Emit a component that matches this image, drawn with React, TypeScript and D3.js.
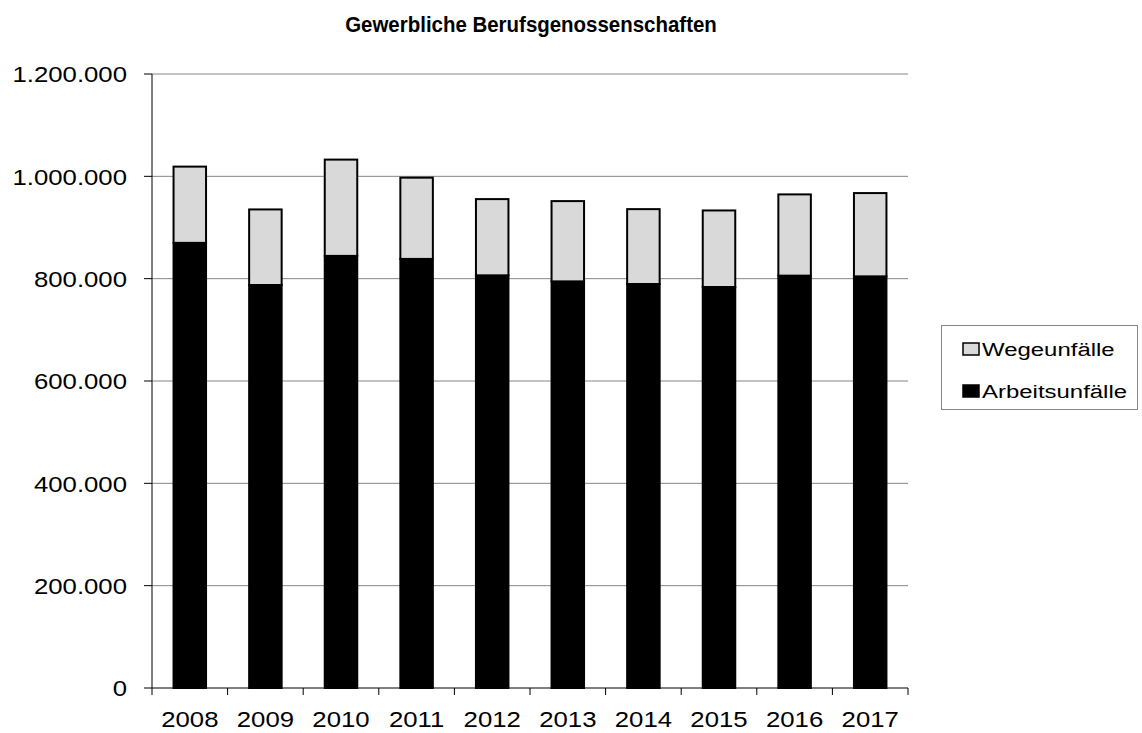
import * as d3 from 'd3';

const years = ['2008', '2009', '2010', '2011', '2012', '2013', '2014', '2015', '2016', '2017'];
const arbeitsunfaelle = [870000, 787600, 844500, 838600, 806500, 794700, 789600, 783700, 805900, 804500];
const wegeunfaelle = [149000, 147700, 188200, 158800, 149000, 156900, 146300, 149600, 158800, 162800];
const yTicks = [0, 200000, 400000, 600000, 800000, 1000000, 1200000];

const seriesNames = ['Arbeitsunfälle', 'Wegeunfälle'];
const colors = ['#000000', '#d9d9d9'];

const fmt = (v: number) => d3.format(',')(v).replace(/,/g, '.');

export default function App() {
  const width = 1142;
  const height = 733;
  const left = 152;
  const right = 908;
  const top = 74;
  const bottom = 688;

  const x = d3.scaleBand<string>().domain(years).range([left, right]).paddingInner(0.57).paddingOuter(0.285);
  const y = d3.scaleLinear().domain([0, 1200000]).range([bottom, top]);

  const rows = years.map((yr, i) => ({ year: yr, a: arbeitsunfaelle[i], w: wegeunfaelle[i] }));
  const stack = d3.stack<any>().keys(['a', 'w'])(rows);

  const step = (right - left) / years.length;
  const font = 'Liberation Sans, Arial, sans-serif';

  return (
    <svg width={width} height={height} style={{ position: 'absolute', left: 0, top: 0 }} fontFamily={font}>
      <rect width={width} height={height} fill="#fff" />
      <text transform="translate(531,31.5) scale(0.93,1)" textAnchor="middle" fontSize={22} fontWeight="bold">
        Gewerbliche Berufsgenossenschaften
      </text>

      {yTicks.map((t) => (
        <g key={t}>
          {t > 0 && <line x1={left} x2={right} y1={y(t)} y2={y(t)} stroke="#868686" strokeWidth={1} />}
          <line x1={left - 8} x2={left} y1={y(t)} y2={y(t)} stroke="#000" strokeWidth={1} />
          <text
            transform={`translate(127,${y(t) + 8.3}) scale(1.12,1)`}
            textAnchor="end"
            fontSize={23}
          >
            {fmt(t)}
          </text>
        </g>
      ))}

      {stack.map((s, si) => (
        <g key={si}>
          {s.map((d, i) => (
            <rect
              key={i}
              x={x(years[i])}
              width={x.bandwidth()}
              y={y(d[1])}
              height={y(d[0]) - y(d[1])}
              fill={colors[si]}
              stroke="#000"
              strokeWidth={2}
            />
          ))}
        </g>
      ))}

      <line x1={left} x2={left} y1={top} y2={bottom} stroke="#000" strokeWidth={1} />
      <line x1={left} x2={right} y1={bottom} y2={bottom} stroke="#000" strokeWidth={1} />
      {d3.range(years.length + 1).map((i) => (
        <line key={i} x1={left + i * step} x2={left + i * step} y1={bottom} y2={bottom + 7} stroke="#000" />
      ))}
      {years.map((yr) => (
        <text
          key={yr}
          transform={`translate(${(x(yr) as number) + x.bandwidth() / 2},726.5) scale(1.12,1)`}
          textAnchor="middle"
          fontSize={23}
        >
          {yr}
        </text>
      ))}

      <rect x={941.5} y={325.5} width={196} height={84} fill="#fff" stroke="#868686" />
      {[1, 0].map((si, k) => (
        <g key={si}>
          <rect x={963} y={343 + k * 42} width={16} height={12} fill={colors[si]} stroke="#000" strokeWidth={1.5} />
          <text transform={`translate(982,${356 + k * 41.5}) scale(1.26,1)`} fontSize={19}>
            {seriesNames[si]}
          </text>
        </g>
      ))}
    </svg>
  );
}
